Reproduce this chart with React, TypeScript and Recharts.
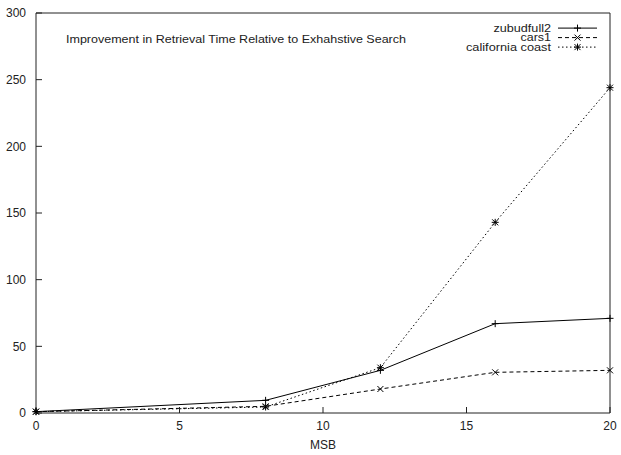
import { LineChart, Line, XAxis, YAxis, Legend } from "recharts";

// values
const msb = [0, 8, 12, 16, 20];
const zubudfull2 = [1, 9.5, 32, 67, 71];
const cars1 = [1, 5, 18, 30.5, 32];
const californiaCoast = [1, 4.5, 34, 143, 244];

const xTicks = [0, 5, 10, 15, 20];
const yTicks = [0, 50, 100, 150, 200, 250, 300];

const title = "Improvement in Retrieval Time Relative to Exhahstive Search";
const font = "'Liberation Sans', Arial, sans-serif";
const ink = "#222";

const data = msb.map((m, i) => ({
  msb: m,
  zubudfull2: zubudfull2[i],
  cars1: cars1[i],
  california: californiaCoast[i],
}));

type Mark = "plus" | "cross" | "star";

// text widths measured on the reference (its text is a bit wider than Arial)
const series: { key: string; name: string; dash?: string; mark: Mark; w: number }[] = [
  { key: "zubudfull2", name: "zubudfull2", mark: "plus", w: 57.5 },
  { key: "cars1", name: "cars1", dash: "4 3", mark: "cross", w: 30.5 },
  { key: "california", name: "california coast", dash: "1.5 2.5", mark: "star", w: 85 },
];

function Marker({ cx, cy, mark }: { cx: number; cy: number; mark: Mark }) {
  const r = 3.5;
  const d = 3;
  const plus = `M${cx - r},${cy}H${cx + r}M${cx},${cy - r}V${cy + r}`;
  const cross = `M${cx - d},${cy - d}L${cx + d},${cy + d}M${cx - d},${cy + d}L${cx + d},${cy - d}`;
  const path = mark === "plus" ? plus : mark === "cross" ? cross : plus + cross;
  return <path d={path} stroke="#000" strokeWidth={1} fill="none" />;
}

function makeDot(mark: Mark) {
  return (props: any) => {
    if (props.cx == null || props.cy == null) return <g key={props.index} />;
    return <Marker key={props.index} cx={props.cx} cy={props.cy} mark={mark} />;
  };
}

const LegendBox = () => (
  <svg width={180} height={45} style={{ overflow: "visible" }}>
    {series.map((s, i) => {
      const base = 16.7 + i * 9.5;
      const mid = base - 3.6;
      return (
        <g key={s.key}>
          <text
            x={111}
            y={base}
            textAnchor="end"
            fontSize={10.5}
            fontFamily={font}
            fill={ink}
            textLength={s.w}
            lengthAdjust="spacingAndGlyphs"
          >
            {s.name}
          </text>
          <line x1={118} x2={157} y1={mid} y2={mid} stroke="#000" strokeDasharray={s.dash} />
          <Marker cx={137.5} cy={mid} mark={s.mark} />
        </g>
      );
    })}
  </svg>
);

export default function App() {
  const tickStyle = { fontSize: 12, fontFamily: font, fill: ink };
  return (
    <div style={{ position: "absolute", left: 0, top: 0, width: 621, height: 455, background: "#fff" }}>
      <LineChart width={621} height={455} data={data} margin={{ top: 12, right: 10, left: 0, bottom: 0 }}>
        <XAxis
          xAxisId="b"
          dataKey="msb"
          type="number"
          domain={[0, 20]}
          ticks={xTicks}
          height={42}
          tickSize={-6}
          tickMargin={14}
          stroke={ink}
          tick={tickStyle}
          label={{ value: "MSB", position: "insideBottom", offset: 6, style: tickStyle }}
        />
        <XAxis
          xAxisId="t"
          orientation="top"
          dataKey="msb"
          type="number"
          domain={[0, 20]}
          ticks={xTicks}
          height={1}
          tickSize={-6}
          stroke={ink}
          tick={false}
        />
        <YAxis
          yAxisId="l"
          type="number"
          domain={[0, 300]}
          ticks={yTicks}
          width={36}
          tickSize={-6}
          tickMargin={16}
          stroke={ink}
          tick={tickStyle}
        />
        <YAxis
          yAxisId="r"
          orientation="right"
          type="number"
          domain={[0, 300]}
          ticks={yTicks}
          width={1}
          tickSize={-6}
          stroke={ink}
          tick={false}
        />
        <Legend
          layout="vertical"
          align="center"
          verticalAlign="middle"
          wrapperStyle={{ left: 440, top: 15, width: 180, height: 45 }}
          content={() => <LegendBox />}
        />
        {series.map((s) => (
          <Line
            key={s.key}
            xAxisId="b"
            yAxisId="l"
            dataKey={s.key}
            name={s.name}
            type="linear"
            stroke="#000"
            strokeWidth={1}
            strokeDasharray={s.dash}
            dot={makeDot(s.mark)}
            activeDot={false}
            isAnimationActive={false}
          />
        ))}
      </LineChart>
      <svg
        width={621}
        height={60}
        style={{ position: "absolute", left: 0, top: 0, pointerEvents: "none" }}
      >
        <text
          x={66}
          y={42.7}
          fontSize={10.7}
          fontFamily={font}
          fill={ink}
          textLength={340}
          lengthAdjust="spacingAndGlyphs"
        >
          {title}
        </text>
      </svg>
    </div>
  );
}
